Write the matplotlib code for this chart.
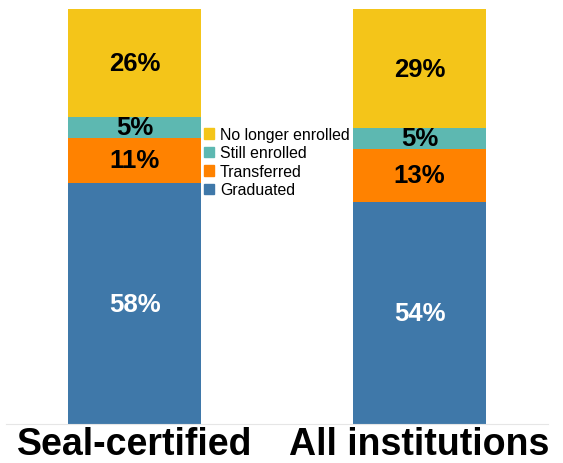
import matplotlib.pyplot as plt
from matplotlib.patches import Patch

plt.rcParams['font.family'] = ['Liberation Sans', 'DejaVu Sans']

groups = ['Seal-certified', 'All institutions']
categories = ['Graduated', 'Transferred', 'Still enrolled', 'No longer enrolled']
values = {
    'Graduated': [58, 54],
    'Transferred': [11, 13],
    'Still enrolled': [5, 5],
    'No longer enrolled': [26, 29],
}
colors = {
    'Graduated': '#3F78A9',
    'Transferred': '#FF8200',
    'Still enrolled': '#5DB8B1',
    'No longer enrolled': '#F4C519',
}
text_colors = {
    'Graduated': 'white',
    'Transferred': 'black',
    'Still enrolled': 'black',
    'No longer enrolled': 'black',
}

fig = plt.figure(figsize=(5.63, 4.64), dpi=100)
ax = fig.add_axes([6.25 / 563, 39 / 464, 541.5 / 563, 415 / 464])

x = [0, 1]
totals = [sum(values[c][i] for c in categories) for i in range(len(groups))]
bottoms = [0.0, 0.0]
for c in categories:
    fracs = [values[c][i] / totals[i] for i in range(len(groups))]
    ax.bar(x, fracs, width=0.467, bottom=bottoms, color=colors[c], label=c)
    for i in range(len(groups)):
        ax.text(x[i], bottoms[i] + fracs[i] / 2, f'{values[c][i]}%', ha='center',
                va='center', fontsize=18.5, fontweight='bold', color=text_colors[c])
    bottoms = [bottoms[i] + fracs[i] for i in range(len(groups))]

ax.set_xlim(-0.45, 1.45)
ax.set_ylim(0, 1)
ax.set_yticks([])
ax.set_xticks([])
for i in range(len(groups)):
    ax.text(x[i], -0.072, groups[i], transform=ax.get_xaxis_transform(),
            ha='center', va='baseline', fontsize=27, fontweight='bold')
for s in ['top', 'right', 'left']:
    ax.spines[s].set_visible(False)
ax.spines['bottom'].set_color('#E6E6E6')

handles = [Patch(color=colors[c], label=c) for c in reversed(categories)]
fig.legend(handles=handles, loc='upper left', bbox_to_anchor=(204 / 563, 1 - 128 / 464),
           frameon=False, fontsize=11.4, handlelength=0.65, handleheight=0.65,
           handletextpad=0.35, labelspacing=0.22, borderpad=0, borderaxespad=0)

fig.savefig('out.png', dpi=100)
